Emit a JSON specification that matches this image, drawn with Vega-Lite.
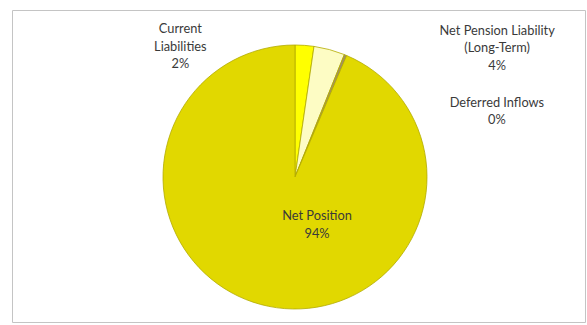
{
  "$schema": "https://vega.github.io/schema/vega-lite/v6.json",
  "width": 573,
  "height": 312,
  "padding": {"left": 12, "top": 10, "right": 2, "bottom": 3},
  "background": "white",
  "view": {"stroke": "#c4c4c4", "strokeWidth": 1, "fill": "white"},
  "config": {
    "view": {"stroke": "#c4c4c4", "strokeWidth": 1},
    "text": {"font": "Lato", "fontSize": 12.8, "color": "#3a3a3a", "fill": "#3a3a3a", "lineHeight": 17.5, "lineBreak": "|", "align": "center", "baseline": "middle"}
  },
  "data": {
    "values": [
      {"category": "Current Liabilities", "label": "Current|Liabilities", "share": 0.023, "ord": 1},
      {"category": "Net Pension Liability (Long-Term)", "label": "Net Pension Liability|(Long-Term)", "share": 0.038, "ord": 2},
      {"category": "Deferred Inflows", "label": "Deferred Inflows", "share": 0.003, "ord": 3},
      {"category": "Net Position", "label": "Net Position", "share": 0.936, "ord": 4}
    ]
  },
  "transform": [
    {"calculate": "datum.label + '|' + format(datum.share, '.0%')", "as": "txt"}
  ],
  "encoding": {
    "theta": {"field": "share", "type": "quantitative", "stack": true},
    "order": {"field": "ord", "type": "quantitative"}
  },
  "layer": [
    {
      "mark": {"type": "arc", "radius": 132, "xOffset": -3.5, "yOffset": 11, "stroke": "#b3ab00", "strokeWidth": 0.8},
      "encoding": {
        "color": {
          "field": "category",
          "type": "nominal",
          "scale": {
            "domain": ["Current Liabilities", "Net Pension Liability (Long-Term)", "Deferred Inflows", "Net Position"],
            "range": ["#ffff00", "#fdfcc4", "#a08c6a", "#e1d800"]
          },
          "legend": null
        }
      }
    },
    {
      "mark": {"type": "text", "radius": 50, "dx": 28.5, "dy": 1.5},
      "encoding": {"text": {"condition": {"test": "datum.category === 'Net Position'", "field": "txt", "type": "nominal"}, "value": ""}}
    },
    {
      "mark": {"type": "text", "radius": 150, "dx": -129, "dy": 13},
      "encoding": {"text": {"condition": {"test": "datum.category === 'Current Liabilities'", "field": "txt", "type": "nominal"}, "value": ""}}
    },
    {
      "mark": {"type": "text", "radius": 150, "dx": 159.5, "dy": 9.5},
      "encoding": {"text": {"condition": {"test": "datum.category === 'Net Pension Liability (Long-Term)'", "field": "txt", "type": "nominal"}, "value": ""}}
    },
    {
      "mark": {"type": "text", "radius": 150, "dx": 141, "dy": 75.5},
      "encoding": {"text": {"condition": {"test": "datum.category === 'Deferred Inflows'", "field": "txt", "type": "nominal"}, "value": ""}}
    }
  ]
}
